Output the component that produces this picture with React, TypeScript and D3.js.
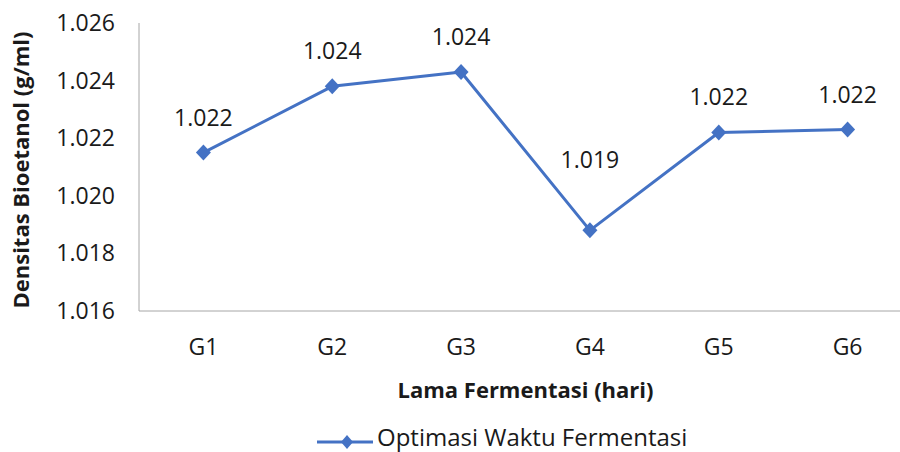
import { useEffect, useRef } from "react";
import * as d3 from "d3";

const categories = ["G1", "G2", "G3", "G4", "G5", "G6"];
const densityValues = [1.0215, 1.0238, 1.0243, 1.0188, 1.0222, 1.0223];
const densityLabels = ["1.022", "1.024", "1.024", "1.019", "1.022", "1.022"];
const yTicks = [1.016, 1.018, 1.02, 1.022, 1.024, 1.026];
const seriesName = "Optimasi Waktu Fermentasi";

const WIDTH = 900;
const HEIGHT = 452;
const COLORS = {
  line: "#4472C4",
  axis: "#a6a6a6",
  text: "#1a1a1a",
};
const FONT = "'Open Sans', 'Noto Sans', sans-serif";

// plot box; right side runs past the window like the cropped original
const margin = { left: 139, top: 23, right: -12, bottom: 141 };

// Excel-style diamond marker, a bit squarer than d3.symbolDiamond
function diamondPath(hw: number, hh: number) {
  return `M0,${-hh}L${hw},0L0,${hh}L${-hw},0Z`;
}

export default function App() {
  const svgRef = useRef<SVGSVGElement>(null);

  useEffect(() => {
    if (!svgRef.current) return;
    const svg = d3.select(svgRef.current);
    svg.selectAll("*").remove();

    const x0 = margin.left;
    const x1 = WIDTH - margin.right;
    const y0 = margin.top;
    const y1 = HEIGHT - margin.bottom;

    const xScale = d3.scaleBand().domain(categories).range([x0, x1]);
    const yScale = d3.scaleLinear().domain([1.016, 1.026]).range([y1, y0]);
    const cx = (c: string) => (xScale(c) ?? 0) + xScale.bandwidth() / 2;

    // axes lines
    svg.append("line")
      .attr("x1", x0).attr("x2", x0)
      .attr("y1", y0).attr("y2", y1)
      .attr("stroke", COLORS.axis).attr("stroke-width", 1);
    svg.append("line")
      .attr("x1", x0).attr("x2", x1)
      .attr("y1", y1).attr("y2", y1)
      .attr("stroke", COLORS.axis).attr("stroke-width", 1);

    // y tick labels
    svg.append("g")
      .selectAll("text")
      .data(yTicks)
      .join("text")
      .attr("x", 115)
      .attr("y", (d) => yScale(d))
      .attr("dy", "0.35em")
      .attr("text-anchor", "end")
      .attr("font-family", FONT)
      .attr("font-size", 23)
      .attr("fill", COLORS.text)
      .text((d) => d.toFixed(3));

    // x tick labels
    svg.append("g")
      .selectAll("text")
      .data(categories)
      .join("text")
      .attr("x", (d) => cx(d))
      .attr("y", 347)
      .attr("dy", "0.35em")
      .attr("text-anchor", "middle")
      .attr("font-family", FONT)
      .attr("font-size", 23)
      .attr("fill", COLORS.text)
      .text((d) => d);

    // axis titles
    svg.append("text")
      .attr("transform", `translate(29,${(y0 + y1) / 2 + 3}) rotate(-90)`)
      .attr("text-anchor", "middle")
      .attr("font-family", FONT)
      .attr("font-size", 22)
      .attr("font-weight", 700)
      .attr("fill", COLORS.text)
      .text("Densitas Bioetanol (g/ml)");

    svg.append("text")
      .attr("x", (x0 + x1) / 2)
      .attr("y", 398)
      .attr("text-anchor", "middle")
      .attr("font-family", FONT)
      .attr("font-size", 22)
      .attr("font-weight", 700)
      .attr("fill", COLORS.text)
      .text("Lama Fermentasi (hari)");

    // series line
    const line = d3.line<number>()
      .x((_, i) => cx(categories[i]))
      .y((d) => yScale(d));

    svg.append("path")
      .datum(densityValues)
      .attr("d", line)
      .attr("fill", "none")
      .attr("stroke", COLORS.line)
      .attr("stroke-width", 3)
      .attr("stroke-linejoin", "round");

    svg.append("g")
      .selectAll("path")
      .data(densityValues)
      .join("path")
      .attr("d", diamondPath(7.5, 8))
      .attr("transform", (d, i) => `translate(${cx(categories[i])},${yScale(d)})`)
      .attr("fill", COLORS.line);

    // data labels (G4 label sits higher above its point than the others)
    svg.append("g")
      .selectAll("text")
      .data(densityValues)
      .join("text")
      .attr("x", (_, i) => cx(categories[i]))
      .attr("y", (d, i) => yScale(d) - (i === 3 ? 70 : 35))
      .attr("dy", "0.35em")
      .attr("text-anchor", "middle")
      .attr("font-family", FONT)
      .attr("font-size", 23)
      .attr("fill", COLORS.text)
      .text((_, i) => densityLabels[i]);

    // legend
    const lg = svg.append("g").attr("transform", "translate(317,442)");
    lg.append("line")
      .attr("x1", 0).attr("x2", 56)
      .attr("y1", 0).attr("y2", 0)
      .attr("stroke", COLORS.line)
      .attr("stroke-width", 3);
    lg.append("path")
      .attr("d", diamondPath(6, 7))
      .attr("transform", "translate(30,0)")
      .attr("fill", COLORS.line);
    lg.append("text")
      .attr("x", 60)
      .attr("y", 4)
      .attr("font-family", FONT)
      .attr("font-size", 24)
      .attr("fill", COLORS.text)
      .text(seriesName);
  }, []);

  return (
    <svg
      ref={svgRef}
      width={WIDTH}
      height={HEIGHT}
      style={{ position: "absolute", left: 0, top: 0, background: "#fff" }}
    />
  );
}
